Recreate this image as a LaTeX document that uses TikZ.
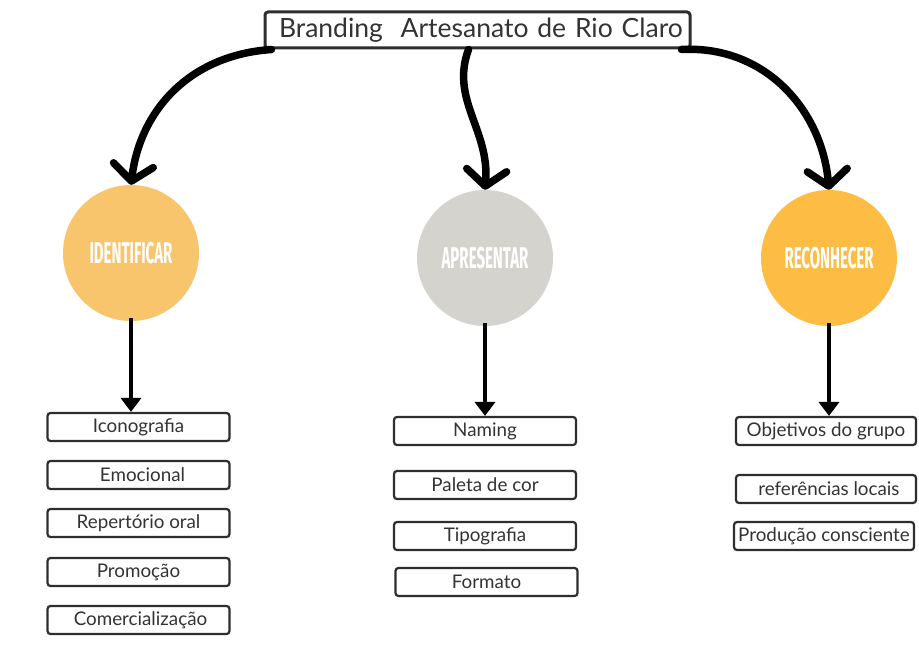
\documentclass[tikz,border=0pt]{standalone}
\usepackage{fontspec}
\setmainfont{Lato}
\newfontfamily\capfont[FakeStretch=0.5]{Fira Sans}
\usetikzlibrary{arrows.meta}

\definecolor{identcolor}{HTML}{F8C56D}
\definecolor{aprescolor}{HTML}{D4D3CD}
\definecolor{reconcolor}{HTML}{FDBD45}
\definecolor{boxline}{HTML}{2E2E2E}
\definecolor{textgray}{HTML}{333333}

\begin{document}
\begin{tikzpicture}[x=1pt, y=-1pt,
    item/.style={draw=boxline, line width=2.2pt, rounded corners=3pt, fill=white,
      minimum width=182pt, minimum height=28pt, inner sep=0pt, text=textgray,
      font=\fontsize{18.8}{18.8}\selectfont},
    phase/.style={circle, minimum size=136pt, inner sep=0pt, text=white,
      font=\capfont\bfseries\fontsize{30}{30}\selectfont},
    curvy/.style={line width=7.5pt, line cap=round,
      -{Straight Barb[length=16pt,width=40pt,round]}},
    down/.style={line width=4.5pt, -{Triangle[length=14pt,width=20pt]}}]

        \fill[white] (0,0) rectangle (919,658);
        \useasboundingbox (0,0) rectangle (919,658);

        % Draw title and phases
        \node[draw=boxline, line width=3pt, rounded corners=3pt, fill=white,
              text width=425pt, align=left, inner xsep=0pt, minimum height=36pt,
              text=textgray, font=\fontsize{26.5}{26.5}\selectfont]
              (title) at (477.5, 30) {\hspace*{14pt}Branding\ \ Artesanato de Rio Claro};

        \node[phase, fill=identcolor] (ident) at (131, 253) {IDENTIFICAR};
        \node[phase, fill=aprescolor] (apres) at (485, 258) {APRESENTAR};
        \node[phase, fill=reconcolor] (recon) at (829, 258) {RECONHECER};

        % Draw items
        \node[item] (icono) at (138.5, 427) {Iconografia};
        \node[item] (emoc) at (138.5, 475) {\hspace*{8pt}Emocional};
        \node[item] (repert) at (138.5, 523) {Repertório oral};
        \node[item] (promo) at (138.5, 572) {Promoção};
        \node[item] (comerc) at (138.5, 620) {\hspace*{4pt}Comercialização};

        \node[item] (naming) at (485, 431) {Naming};
        \node[item] (paleta) at (485, 485) {Paleta de cor};
        \node[item] (tipo) at (485, 536) {Tipografia};
        \node[item] (formato) at (486.5, 582) {Formato};

        \node[item, minimum width=180pt] (objet) at (826, 431) {Objetivos do grupo};
        \node[item, minimum width=180pt] (refer) at (826, 489) {\hspace*{6pt}referências locais};
        \node[item, minimum width=180pt] (producao) at (824, 536) {Produção consciente};

        % Draw arrows
        \draw[curvy] ([xshift=8pt]title.south west) .. controls (190, 55) and (140, 110) .. (ident.north);
        \draw[curvy] ([xshift=-9pt]title.south) .. controls (450, 100) and (490, 130) .. (apres.north);
        \draw[curvy] ([xshift=-10pt]title.south east) .. controls (765, 45) and (822, 110) .. (recon.north);

        \draw[down] ([yshift=3pt]ident.south) -- (ident.south |- icono.north);
        \draw[down] ([yshift=3pt]apres.south) -- (apres.south |- naming.north);
        \draw[down] ([yshift=3pt]recon.south) -- (recon.south |- objet.north);
\end{tikzpicture}
\end{document}
